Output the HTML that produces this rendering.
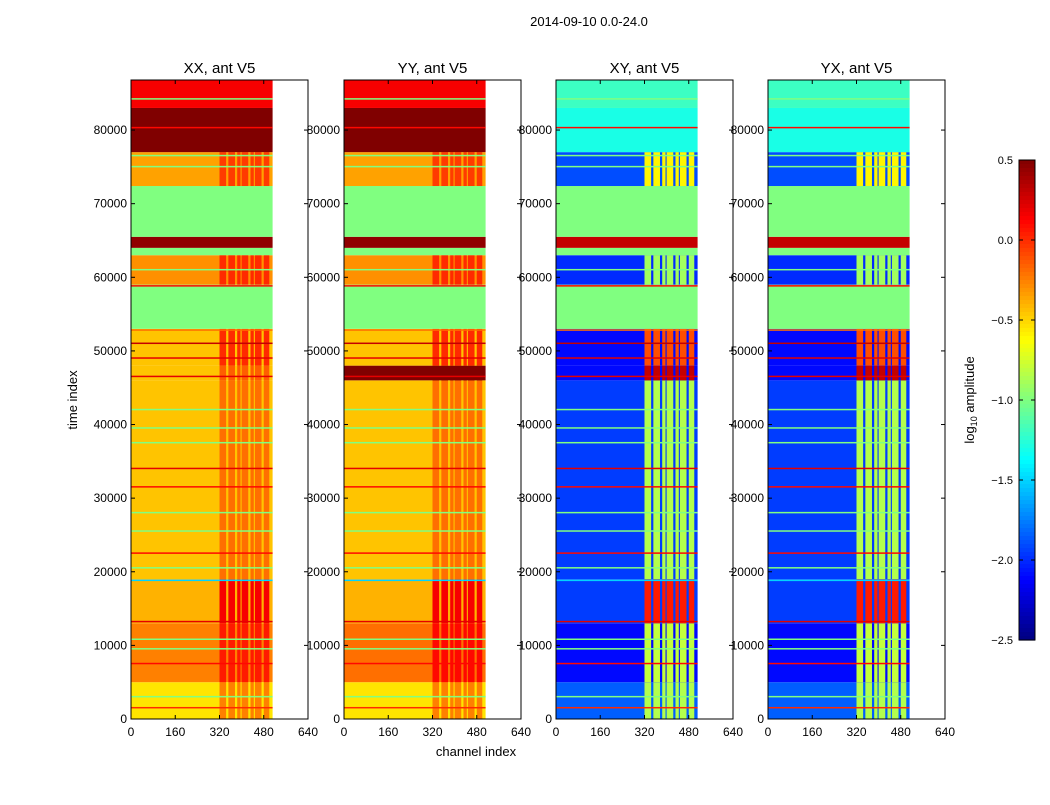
<!DOCTYPE html>
<html><head><meta charset="utf-8">
<style>
body{margin:0;background:#fff;font-family:"Liberation Sans",sans-serif;}
svg text{font-family:"Liberation Sans",sans-serif;fill:#000;}
</style></head>
<body>
<svg id="fig" width="1050" height="800" xmlns="http://www.w3.org/2000/svg">
<rect width="1050" height="800" fill="#fff"/>
<text x="589" y="26" font-size="13" text-anchor="middle">2014-09-10 0.0-24.0</text>
<text x="476" y="756" font-size="13" text-anchor="middle">channel index</text>
<text transform="translate(77,400) rotate(-90)" font-size="13" text-anchor="middle">time index</text>
<g id="panels"></g>
<g id="cbar"></g>
<text transform="translate(974,400) rotate(-90)" font-size="13" text-anchor="middle">log<tspan font-size="9" dy="3">10</tspan><tspan dy="-3"> amplitude</tspan></text>
</svg>
<script>
// ---- data ----
const panelTitles = ["XX, ant V5","YY, ant V5","XY, ant V5","YX, ant V5"];
const bandStart = [0,5000,13000,19000,46000,48000,53000,59000,63000,64000,65500,72400,77000,83000];
const bandEnd   = [5000,13000,19000,46000,48000,53000,59000,63000,64000,65500,72400,77000,83000,86800];
const valXX = [-0.55,-0.25,-0.4,-0.45,-0.45,-0.45,-1.0,-0.3,-1.0,0.45,-1.0,-0.35,0.5,0.15];
const valYY = [-0.55,-0.2,-0.4,-0.45,0.5,-0.45,-1.0,-0.3,-1.0,0.45,-1.0,-0.35,0.5,0.15];
const valXY = [-1.85,-2.1,-1.95,-1.95,-2.1,-2.1,-1.0,-2.0,-1.0,0.3,-1.0,-1.9,-1.3,-1.2];
const valYX = [-1.85,-2.1,-1.95,-1.95,-2.1,-2.1,-1.0,-2.0,-1.0,0.3,-1.0,-1.9,-1.3,-1.2];
const bandRfi = [1,1,1,1,1,1,0,1,0,0,0,1,0,0];
const rfiBoostPar = [0.3,0.3,0.55,0.25,0.3,0.45,0,0.3,0,0,0,0.3,0,0];
const rfiBoostCross = [1.0,1.3,2.0,1.1,2.4,2.0,0,1.1,0,0,0,1.3,0,0];
const rfiStart = [320,352,384,400,432,448,480];
const rfiEnd   = [344,376,396,424,444,472,500];
const lineTimes = [1500,3000,7500,9500,10800,13200,18800,20500,22500,25500,28000,31500,34000,37500,39500,42000,46500,49000,51000,52800,58800,61000,75000,76500,80300,84200];
const lineVals  = [0.0,-1.0,0.1,-1.0,-1.0,0.2,-1.5,-1.0,0.1,-1.0,-1.0,0.1,0.2,-1.0,-1.0,-1.0,0.2,0.2,0.3,-0.2,0.1,-1.0,-1.0,-1.0,0.1,-1.0];
const xTicks = [0,160,320,480,640];
const yTicks = [0,10000,20000,30000,40000,50000,60000,70000,80000];
const cbTicks = [0.5,0.0,-0.5,-1.0,-1.5,-2.0,-2.5];

// ---- layout ----
const panelX = [131,344,556,768], PW=177, PT=80, PB=719;
const XMAX=640, YMAX=86800, NCH=512, VMIN=-2.5, VMAX=0.5;
const NS="http://www.w3.org/2000/svg";
function jet(v){let t=(v-VMIN)/(VMAX-VMIN);t=Math.max(0,Math.min(1,t));
 const c=x=>Math.round(255*Math.max(0,Math.min(1,x)));
 return `rgb(${c(1.5-Math.abs(4*t-3))},${c(1.5-Math.abs(4*t-2))},${c(1.5-Math.abs(4*t-1))})`;}
function mk(tag,attrs,parent){const e=document.createElementNS(NS,tag);for(const k in attrs)e.setAttribute(k,attrs[k]);parent.appendChild(e);return e;}
const panels=document.getElementById('panels');
const allVals=[valXX,valYY,valXY,valYX];
panelTitles.forEach((title,p)=>{
 const x0=panelX[p];
 const sx=c=>x0+c*PW/XMAX, sy=t=>PB-t*(PB-PT)/YMAX;
 const g=mk('g',{},panels);
 
 
 const cross=p>=2, vals=allVals[p];
 bandStart.forEach((s,i)=>{
  const r=mk('rect',{x:sx(0),y:sy(bandEnd[i]),width:sx(NCH)-sx(0),height:sy(s)-sy(bandEnd[i]),fill:jet(vals[i])},g);
  
  
  if(bandRfi[i]){
   const b=cross?rfiBoostCross[i]:rfiBoostPar[i];
   rfiStart.forEach((cs,k)=>{
    const rr=mk('rect',{x:sx(cs),y:sy(bandEnd[i]),width:sx(rfiEnd[k])-sx(cs),height:sy(s)-sy(bandEnd[i]),fill:jet(vals[i]+b)},g);
    
    
   });
  }
 });
 lineTimes.forEach((t,i)=>{
  const l=mk('rect',{x:sx(0),y:sy(t)-1,width:sx(NCH)-sx(0),height:1.5,fill:jet(lineVals[i])},g);
  
  
 });
 const fr=mk('rect',{x:x0,y:PT,width:PW,height:PB-PT,fill:'none',stroke:'#000','stroke-width':1},g);
 
 
 const tt=mk('text',{x:x0+PW/2,y:PT-7,'font-size':15,'text-anchor':'middle'},g);tt.textContent=title;
 
 
 xTicks.forEach(v=>{
  mk('line',{x1:sx(v),x2:sx(v),y1:PB,y2:PB-4,stroke:'#000'},g);
  mk('line',{x1:sx(v),x2:sx(v),y1:PT,y2:PT+4,stroke:'#000'},g);
  const t=mk('text',{x:sx(v),y:PB+17,'font-size':12,'text-anchor':'middle'},g);t.textContent=v;
  
  
 });
 yTicks.forEach(v=>{
  mk('line',{x1:x0,x2:x0+4,y1:sy(v),y2:sy(v),stroke:'#000'},g);
  mk('line',{x1:x0+PW,x2:x0+PW-4,y1:sy(v),y2:sy(v),stroke:'#000'},g);
  const t=mk('text',{x:x0-4,y:sy(v)+4,'font-size':12,'text-anchor':'end'},g);t.textContent=v;
  
  
 });
});
// colorbar
const cb=document.getElementById('cbar');
const CX=1019,CW=16,CT=160,CBt=640,N=120;
for(let i=0;i<N;i++){const v=VMAX-(i+0.5)*(VMAX-VMIN)/N;
 mk('rect',{x:CX,y:CT+i*(CBt-CT)/N,width:CW,height:(CBt-CT)/N+0.6,fill:jet(v)},cb);}
mk('rect',{x:CX,y:CT,width:CW,height:CBt-CT,fill:'none',stroke:'#000'},cb);
cbTicks.forEach(v=>{const y=CT+(VMAX-v)/(VMAX-VMIN)*(CBt-CT);
 mk('line',{x1:CX+CW-4,x2:CX+CW,y1:y,y2:y,stroke:'#000'},cb);
 mk('line',{x1:CX,x2:CX+4,y1:y,y2:y,stroke:'#000'},cb);
 const t=mk('text',{x:1013,y:y+4,'font-size':11,'text-anchor':'end'},cb);t.textContent=v.toFixed(1).replace('-','\u2212');
 
 
});
</script>
</body></html>
